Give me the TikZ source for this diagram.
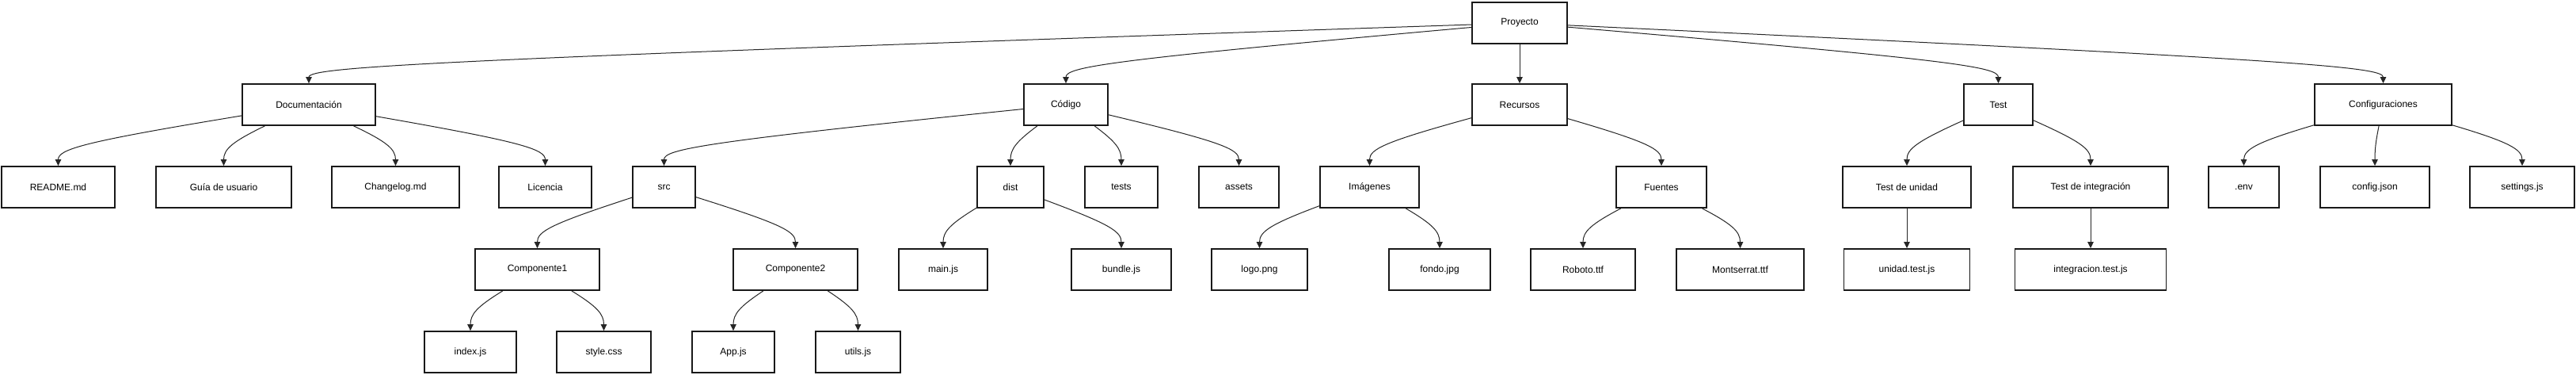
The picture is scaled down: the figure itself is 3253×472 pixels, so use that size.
\documentclass[tikz,border=0pt]{standalone}
\usepackage{fontspec}
\setmainfont{Liberation Sans}
\usetikzlibrary{arrows.meta,calc}
\tikzset{
  caja/.style={draw=black!90,line width=1.8pt,fill=white,minimum height=52pt,
    inner sep=0pt,font=\fontsize{12}{14}\selectfont},
  flecha/.style={draw=black!85,line width=1pt,-{Triangle[length=8pt,width=7.5pt]}}
}
\begin{document}
\begin{tikzpicture}[x=1pt,y=1pt]
\useasboundingbox (0,0) rectangle (3253,-472);
% fila 0 y 1
\node[caja,minimum width=120pt] (pro) at (1919,-29) {Proyecto};
\node[caja,minimum width=168pt] (doc) at (390,-132) {Documentación};
\node[caja,minimum width=106pt] (cod) at (1346,-132) {Código};
\node[caja,minimum width=120pt] (rec) at (1919,-132) {Recursos};
\node[caja,minimum width=87pt] (tst) at (2523.5,-132) {Test};
\node[caja,minimum width=173pt] (cfg) at (3009.5,-132) {Configuraciones};
% fila 2
\node[caja,minimum width=143pt] (readme) at (73.5,-236) {README.md};
\node[caja,minimum width=171pt] (guia) at (282.5,-236) {Guía de usuario};
\node[caja,minimum width=161pt] (changelog) at (499.5,-236) {Changelog.md};
\node[caja,minimum width=117pt] (lic) at (688.5,-236) {Licencia};
\node[caja,minimum width=79pt] (src) at (838.5,-236) {src};
\node[caja,minimum width=84pt] (dist) at (1276,-236) {dist};
\node[caja,minimum width=92pt] (tests) at (1416,-236) {tests};
\node[caja,minimum width=101pt] (assets) at (1564.5,-236) {assets};
\node[caja,minimum width=125pt] (img) at (1729.5,-236) {Imágenes};
\node[caja,minimum width=114pt] (fuentes) at (2098,-236) {Fuentes};
\node[caja,minimum width=162pt] (tunit) at (2408,-236) {Test de unidad};
\node[caja,minimum width=196pt] (tint) at (2640,-236) {Test de integración};
\node[caja,minimum width=89pt] (env) at (2833.5,-236) {.env};
\node[caja,minimum width=138pt] (cjson) at (2999,-236) {config.json};
\node[caja,minimum width=132pt] (settings) at (3185,-236) {settings.js};
% fila 3
\node[caja,minimum width=157pt] (comp1) at (678.5,-340) {Componente1};
\node[caja,minimum width=157pt] (comp2) at (1004.5,-340) {Componente2};
\node[caja,minimum width=112pt] (mainjs) at (1191,-340) {main.js};
\node[caja,minimum width=126pt] (bundle) at (1416,-340) {bundle.js};
\node[caja,minimum width=121pt] (logo) at (1590.5,-340) {logo.png};
\node[caja,minimum width=128pt] (fondo) at (1818,-340) {fondo.jpg};
\node[caja,minimum width=132pt] (roboto) at (1999,-340) {Roboto.ttf};
\node[caja,minimum width=161pt] (montserrat) at (2197.5,-340) {Montserrat.ttf};
\node[caja,minimum width=159pt] (unittest) at (2408,-340) {unidad.test.js};
\node[caja,minimum width=191pt] (inttest) at (2640,-340) {integracion.test.js};
% fila 4
\node[caja,minimum width=116pt] (index) at (594,-444) {index.js};
\node[caja,minimum width=119pt] (style) at (762.5,-444) {style.css};
\node[caja,minimum width=104pt] (app) at (926,-444) {App.js};
\node[caja,minimum width=107pt] (utils) at (1083.5,-444) {utils.js};
% enlaces
\foreach \a/\b in {pro/doc,pro/cod,pro/rec,pro/tst,pro/cfg,
  doc/readme,doc/guia,doc/changelog,doc/lic,
  cod/src,cod/dist,cod/tests,cod/assets,
  rec/img,rec/fuentes,tst/tunit,tst/tint,
  cfg/env,cfg/cjson,cfg/settings,
  src/comp1,src/comp2,dist/mainjs,dist/bundle,
  img/logo,img/fondo,fuentes/roboto,fuentes/montserrat,
  tunit/unittest,tint/inttest,
  comp1/index,comp1/style,comp2/app,comp2/utils}{
  \coordinate (m) at ($(\a.center -| \b.center)!.5!(\b.center)$);
  \draw[flecha] (\a) .. controls ($(\a)!.9!(m)$) and +(0,21) .. (\b.north);
}
\end{tikzpicture}
\end{document}
